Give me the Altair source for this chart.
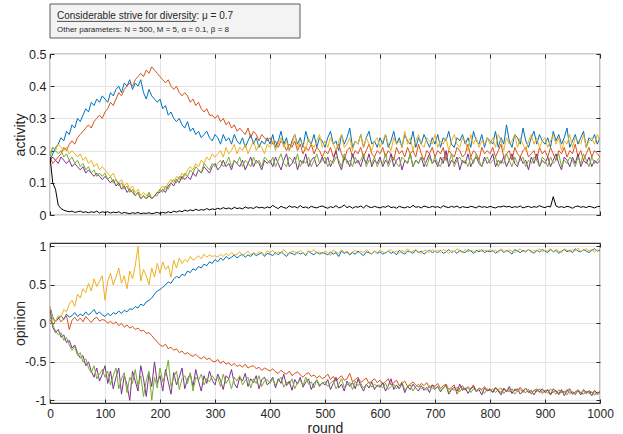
import altair as alt
import pandas as pd

rounds = list(range(0, 1001, 5))

# ---------------- activity panel ----------------
act_blue = [
0.17,0.19,0.21,0.22,0.24,0.23,0.26,0.25,0.28,0.27,0.30,0.29,0.31,0.33,0.32,0.35,0.34,0.36,0.35,0.37,
0.36,0.35,0.38,0.37,0.39,0.40,0.38,0.41,0.40,0.42,0.39,0.41,0.40,0.42,0.38,0.36,0.39,0.37,0.36,0.35,
0.36,0.33,0.34,0.31,0.32,0.30,0.29,0.30,0.28,0.27,0.29,0.26,0.27,0.25,0.26,0.24,0.25,0.26,0.24,0.23,
0.25,0.24,0.22,0.25,0.23,0.24,0.22,0.25,0.23,0.22,0.24,0.21,0.23,0.25,0.22,0.24,0.21,0.23,0.22,0.24,
0.22,0.25,0.21,0.23,0.26,0.22,0.24,0.20,0.23,0.25,0.22,0.24,0.21,0.26,0.23,0.22,0.25,0.21,0.24,0.23,
0.21,0.24,0.26,0.22,0.23,0.20,0.25,0.22,0.24,0.27,0.21,0.23,0.22,0.25,0.21,0.24,0.26,0.22,0.23,0.21,
0.24,0.22,0.25,0.21,0.23,0.26,0.22,0.24,0.21,0.25,0.23,0.22,0.26,0.21,0.24,0.22,0.25,0.23,0.21,0.24,
0.22,0.25,0.21,0.24,0.23,0.26,0.22,0.21,0.24,0.23,0.25,0.22,0.24,0.21,0.26,0.23,0.22,0.25,0.21,0.24,
0.23,0.22,0.26,0.21,0.24,0.22,0.28,0.23,0.21,0.25,0.24,0.22,0.27,0.23,0.21,0.24,0.26,0.22,0.25,0.23,
0.22,0.24,0.21,0.26,0.23,0.25,0.22,0.24,0.27,0.21,0.23,0.25,0.22,0.24,0.26,0.21,0.24,0.23,0.25,0.22,
0.24]
act_orange = [
0.18,0.16,0.17,0.18,0.19,0.21,0.20,0.22,0.23,0.22,0.24,0.25,0.26,0.27,0.28,0.27,0.29,0.30,0.31,0.30,
0.32,0.33,0.35,0.34,0.36,0.38,0.37,0.39,0.40,0.41,0.40,0.42,0.43,0.44,0.43,0.45,0.44,0.46,0.45,0.44,
0.43,0.42,0.41,0.42,0.40,0.39,0.40,0.38,0.37,0.38,0.37,0.35,0.36,0.34,0.35,0.33,0.32,0.33,0.31,0.31,
0.30,0.31,0.29,0.30,0.28,0.29,0.27,0.28,0.26,0.27,0.26,0.25,0.27,0.24,0.26,0.25,0.23,0.25,0.24,0.23,
0.24,0.22,0.23,0.21,0.23,0.22,0.20,0.22,0.21,0.23,0.20,0.22,0.19,0.21,0.20,0.22,0.19,0.21,0.20,0.18,
0.20,0.19,0.21,0.18,0.20,0.22,0.19,0.17,0.20,0.21,0.18,0.20,0.19,0.21,0.18,0.20,0.22,0.19,0.18,0.20,
0.19,0.21,0.18,0.20,0.19,0.17,0.21,0.19,0.20,0.18,0.21,0.19,0.20,0.18,0.22,0.19,0.17,0.20,0.19,0.21,
0.18,0.20,0.19,0.21,0.17,0.20,0.19,0.18,0.21,0.20,0.18,0.19,0.22,0.18,0.20,0.19,0.17,0.21,0.19,0.20,
0.19,0.21,0.18,0.20,0.22,0.18,0.19,0.20,0.17,0.21,0.19,0.18,0.20,0.21,0.18,0.19,0.20,0.17,0.21,0.19,
0.20,0.18,0.21,0.19,0.17,0.20,0.19,0.21,0.18,0.20,0.19,0.22,0.18,0.20,0.17,0.19,0.21,0.18,0.20,0.19,
0.18]
act_yellow = [
0.19,0.21,0.20,0.22,0.21,0.20,0.21,0.19,0.20,0.19,0.18,0.19,0.17,0.18,0.16,0.17,0.15,0.16,0.14,0.15,
0.14,0.13,0.12,0.13,0.11,0.10,0.11,0.09,0.10,0.08,0.09,0.07,0.08,0.06,0.07,0.06,0.07,0.05,0.06,0.07,
0.08,0.09,0.08,0.10,0.11,0.10,0.12,0.11,0.13,0.12,0.14,0.15,0.14,0.16,0.15,0.17,0.16,0.18,0.17,0.19,
0.18,0.19,0.20,0.18,0.21,0.19,0.20,0.22,0.19,0.21,0.20,0.22,0.19,0.21,0.23,0.20,0.22,0.21,0.19,0.22,
0.21,0.23,0.20,0.22,0.24,0.21,0.23,0.20,0.22,0.25,0.21,0.23,0.22,0.20,0.24,0.22,0.21,0.23,0.25,0.21,
0.23,0.21,0.24,0.22,0.20,0.23,0.25,0.21,0.22,0.24,0.20,0.23,0.22,0.25,0.21,0.24,0.22,0.20,0.23,0.24,
0.21,0.23,0.25,0.22,0.20,0.24,0.22,0.23,0.21,0.26,0.22,0.24,0.20,0.23,0.25,0.22,0.21,0.24,0.23,0.22,
0.25,0.21,0.23,0.22,0.24,0.20,0.23,0.25,0.22,0.21,0.24,0.23,0.20,0.25,0.22,0.24,0.21,0.23,0.22,0.24,
0.22,0.24,0.21,0.25,0.23,0.20,0.24,0.22,0.23,0.25,0.21,0.24,0.22,0.20,0.23,0.25,0.22,0.24,0.21,0.23,
0.24,0.21,0.23,0.25,0.22,0.24,0.20,0.23,0.22,0.25,0.21,0.24,0.23,0.22,0.25,0.21,0.23,0.24,0.22,0.25,
0.23]
act_purple = [
0.17,0.18,0.17,0.16,0.18,0.17,0.16,0.17,0.15,0.16,0.15,0.14,0.15,0.13,0.14,0.13,0.12,0.13,0.12,0.11,
0.12,0.11,0.10,0.11,0.09,0.10,0.08,0.09,0.07,0.08,0.07,0.06,0.07,0.05,0.06,0.05,0.06,0.05,0.06,0.07,
0.07,0.08,0.07,0.09,0.10,0.09,0.11,0.10,0.12,0.11,0.12,0.11,0.13,0.12,0.14,0.13,0.15,0.14,0.13,0.15,
0.16,0.14,0.15,0.17,0.15,0.16,0.14,0.17,0.16,0.15,0.17,0.14,0.16,0.18,0.15,0.17,0.16,0.14,0.17,0.16,
0.17,0.15,0.18,0.16,0.14,0.17,0.19,0.15,0.16,0.18,0.14,0.17,0.16,0.19,0.15,0.17,0.18,0.15,0.16,0.18,
0.16,0.18,0.15,0.17,0.20,0.16,0.14,0.18,0.17,0.15,0.19,0.16,0.17,0.15,0.18,0.16,0.19,0.15,0.17,0.16,
0.18,0.15,0.17,0.16,0.19,0.15,0.17,0.18,0.14,0.17,0.16,0.19,0.15,0.17,0.16,0.18,0.15,0.17,0.19,0.16,
0.17,0.15,0.18,0.16,0.20,0.15,0.17,0.16,0.18,0.14,0.17,0.16,0.19,0.15,0.17,0.18,0.16,0.15,0.18,0.16,
0.17,0.19,0.15,0.17,0.16,0.18,0.15,0.17,0.19,0.16,0.15,0.18,0.16,0.17,0.14,0.18,0.16,0.19,0.15,0.17,
0.16,0.18,0.15,0.17,0.19,0.16,0.14,0.18,0.17,0.15,0.18,0.16,0.19,0.15,0.17,0.16,0.18,0.15,0.17,0.16,
0.17]
act_green = [
0.18,0.21,0.20,0.19,0.20,0.18,0.19,0.17,0.18,0.16,0.17,0.15,0.16,0.14,0.15,0.13,0.14,0.12,0.13,0.12,
0.13,0.11,0.12,0.10,0.11,0.09,0.10,0.08,0.09,0.07,0.08,0.06,0.07,0.05,0.06,0.05,0.07,0.05,0.06,0.06,
0.08,0.07,0.09,0.08,0.10,0.11,0.10,0.12,0.11,0.13,0.12,0.14,0.13,0.15,0.14,0.13,0.16,0.15,0.14,0.16,
0.15,0.16,0.17,0.15,0.16,0.18,0.15,0.17,0.16,0.18,0.15,0.17,0.16,0.15,0.18,0.16,0.17,0.15,0.18,0.17,
0.16,0.18,0.15,0.17,0.19,0.16,0.15,0.18,0.17,0.16,0.19,0.15,0.17,0.16,0.18,0.15,0.17,0.19,0.16,0.17,
0.18,0.15,0.17,0.16,0.18,0.17,0.15,0.19,0.16,0.17,0.15,0.18,0.16,0.17,0.19,0.15,0.17,0.16,0.18,0.15,
0.17,0.16,0.19,0.15,0.17,0.18,0.16,0.15,0.18,0.17,0.16,0.19,0.15,0.17,0.16,0.18,0.17,0.15,0.18,0.16,
0.18,0.16,0.15,0.18,0.17,0.16,0.19,0.15,0.17,0.18,0.16,0.17,0.15,0.18,0.16,0.19,0.17,0.15,0.17,0.18,
0.16,0.17,0.18,0.15,0.17,0.16,0.19,0.17,0.15,0.18,0.16,0.17,0.18,0.15,0.17,0.16,0.18,0.17,0.15,0.18,
0.17,0.15,0.18,0.16,0.17,0.19,0.15,0.17,0.16,0.18,0.17,0.15,0.18,0.16,0.19,0.17,0.15,0.18,0.16,0.17,
0.18]
act_black = [
0.18,0.10,0.08,0.03,0.02,0.015,0.012,0.01,0.012,0.008,0.01,0.012,0.008,0.01,0.007,0.01,0.008,0.012,0.006,0.01,
0.008,0.01,0.006,0.009,0.007,0.01,0.005,0.008,0.006,0.004,0.007,0.005,0.008,0.004,0.006,0.005,0.007,0.004,0.006,0.008,
0.005,0.008,0.006,0.01,0.007,0.012,0.009,0.013,0.01,0.015,0.012,0.016,0.013,0.018,0.014,0.017,0.015,0.02,0.016,0.019,
0.017,0.021,0.018,0.023,0.019,0.022,0.018,0.024,0.02,0.022,0.019,0.025,0.021,0.023,0.02,0.026,0.022,0.024,0.021,0.025,
0.022,0.03,0.024,0.02,0.027,0.023,0.021,0.028,0.024,0.026,0.022,0.029,0.023,0.025,0.021,0.027,0.024,0.022,0.026,0.028,
0.024,0.021,0.026,0.023,0.029,0.022,0.025,0.031,0.023,0.027,0.021,0.026,0.024,0.028,0.022,0.03,0.025,0.023,0.027,0.024,
0.022,0.026,0.024,0.029,0.023,0.025,0.021,0.027,0.024,0.022,0.026,0.023,0.03,0.024,0.026,0.022,0.028,0.025,0.023,0.027,
0.024,0.026,0.022,0.029,0.025,0.023,0.027,0.024,0.028,0.022,0.026,0.024,0.023,0.027,0.025,0.022,0.028,0.024,0.026,0.023,
0.027,0.024,0.022,0.026,0.025,0.028,0.025,0.027,0.023,0.026,0.024,0.028,0.022,0.025,0.027,0.023,0.026,0.024,0.029,0.025,
0.023,0.027,0.025,0.057,0.028,0.024,0.026,0.023,0.027,0.025,0.021,0.026,0.028,0.024,0.026,0.023,0.027,0.025,0.022,0.026,
0.027]

# ---------------- opinion panel ----------------
op_blue = [
0.22,0.08,0.02,0.06,0.10,0.05,0.12,0.08,0.10,0.14,0.09,0.12,0.10,0.15,0.11,0.14,0.18,0.12,0.15,0.11,
0.09,0.13,0.10,0.14,0.12,0.16,0.13,0.17,0.15,0.19,0.18,0.22,0.20,0.25,0.23,0.28,0.30,0.33,0.38,0.42,
0.44,0.47,0.50,0.54,0.52,0.58,0.61,0.59,0.64,0.62,0.68,0.66,0.71,0.69,0.74,0.72,0.77,0.75,0.80,0.78,
0.83,0.80,0.85,0.82,0.87,0.84,0.86,0.89,0.85,0.88,0.90,0.86,0.89,0.87,0.91,0.88,0.90,0.92,0.87,0.91,
0.90,0.88,0.92,0.89,0.93,0.90,0.87,0.92,0.91,0.89,0.93,0.90,0.92,0.88,0.94,0.91,0.89,0.93,0.90,0.92,
0.91,0.89,0.93,0.90,0.92,0.87,0.94,0.91,0.93,0.89,0.92,0.90,0.94,0.91,0.88,0.93,0.92,0.90,0.94,0.91,
0.93,0.90,0.92,0.94,0.91,0.93,0.89,0.95,0.92,0.90,0.94,0.93,0.91,0.95,0.92,0.94,0.90,0.93,0.95,0.92,
0.94,0.92,0.95,0.91,0.93,0.96,0.92,0.94,0.91,0.95,0.93,0.92,0.96,0.94,0.91,0.95,0.93,0.96,0.92,0.94,
0.93,0.95,0.91,0.94,0.96,0.92,0.95,0.93,0.90,0.96,0.94,0.92,0.95,0.93,0.96,0.94,0.91,0.95,0.93,0.96,
0.94,0.92,0.96,0.93,0.95,0.91,0.94,0.96,0.93,0.95,0.92,0.97,0.94,0.93,0.96,0.94,0.92,0.95,0.97,0.94,
0.95]
op_orange = [
0.05,-0.02,0.03,0.08,0.02,0.06,0.10,-0.08,0.04,0.08,0.03,0.07,0.02,0.09,0.05,0.01,0.06,0.08,0.03,0.05,
0.04,0.00,0.03,-0.01,0.02,-0.03,0.00,-0.05,-0.02,-0.06,-0.04,-0.08,-0.06,-0.10,-0.09,-0.13,-0.12,-0.16,-0.20,-0.24,
-0.28,-0.30,-0.27,-0.33,-0.31,-0.35,-0.33,-0.38,-0.36,-0.40,-0.38,-0.41,-0.43,-0.40,-0.44,-0.46,-0.43,-0.47,-0.45,-0.49,
-0.50,-0.47,-0.52,-0.49,-0.53,-0.51,-0.55,-0.52,-0.56,-0.54,-0.57,-0.53,-0.58,-0.56,-0.55,-0.59,-0.57,-0.61,-0.58,-0.60,
-0.62,-0.59,-0.63,-0.65,-0.61,-0.64,-0.66,-0.62,-0.68,-0.65,-0.63,-0.67,-0.70,-0.66,-0.64,-0.69,-0.67,-0.71,-0.68,-0.72,
-0.70,-0.66,-0.73,-0.69,-0.75,-0.71,-0.68,-0.74,-0.72,-0.65,-0.76,-0.73,-0.70,-0.77,-0.74,-0.71,-0.78,-0.75,-0.72,-0.77,
-0.74,-0.79,-0.76,-0.72,-0.80,-0.77,-0.74,-0.81,-0.78,-0.75,-0.82,-0.79,-0.76,-0.80,-0.83,-0.78,-0.81,-0.77,-0.84,-0.80,
-0.82,-0.78,-0.85,-0.81,-0.79,-0.86,-0.83,-0.80,-0.92,-0.84,-0.81,-0.87,-0.83,-0.85,-0.80,-0.88,-0.84,-0.86,-0.82,-0.87,
-0.85,-0.89,-0.83,-0.87,-0.90,-0.84,-0.88,-0.86,-0.91,-0.85,-0.89,-0.83,-0.88,-0.90,-0.86,-0.92,-0.87,-0.89,-0.85,-0.91,
-0.88,-0.86,-0.92,-0.89,-0.87,-0.93,-0.88,-0.90,-0.86,-0.91,-0.89,-0.93,-0.87,-0.90,-0.92,-0.88,-0.91,-0.89,-0.93,-0.90,
-0.89]
op_yellow = [
0.22,0.05,0.02,0.10,0.08,0.18,0.15,0.25,0.30,0.22,0.38,0.33,0.45,0.40,0.52,0.42,0.58,0.48,0.55,0.62,
0.30,0.55,0.65,0.50,0.60,0.72,0.52,0.62,0.45,0.68,0.58,0.75,1.00,0.55,0.70,0.62,0.50,0.72,0.60,0.78,
0.65,0.80,0.70,0.75,0.60,0.82,0.72,0.85,0.78,0.83,0.80,0.87,0.82,0.85,0.88,0.84,0.90,0.86,0.89,0.87,
0.88,0.86,0.90,0.87,0.91,0.88,0.92,0.89,0.90,0.93,0.88,0.91,0.94,0.89,0.92,0.90,0.93,0.91,0.89,0.94,
0.92,0.95,0.90,0.93,0.91,0.96,0.92,0.90,0.94,0.93,0.91,0.95,0.92,0.89,0.94,0.93,0.96,0.91,0.93,0.90,
0.94,0.92,0.88,0.95,0.93,0.91,0.96,0.92,0.94,0.90,0.93,0.95,0.91,0.94,0.92,0.96,0.93,0.90,0.94,0.92,
0.95,0.93,0.91,0.94,0.96,0.92,0.94,0.91,0.95,0.93,0.97,0.92,0.94,0.96,0.93,0.91,0.95,0.94,0.92,0.96,
0.93,0.95,0.92,0.96,0.94,0.91,0.95,0.93,0.97,0.94,0.92,0.96,0.93,0.95,0.94,0.92,0.96,0.93,0.95,0.94,
0.96,0.93,0.95,0.92,0.97,0.94,0.93,0.96,0.94,0.92,0.95,0.97,0.93,0.94,0.96,0.92,0.95,0.94,0.97,0.93,
0.95,0.94,0.97,0.93,0.96,0.94,0.92,0.97,0.95,0.93,0.96,0.94,0.98,0.93,0.95,0.97,0.94,0.96,0.93,0.95,
0.96]
op_purple = [
0.18,-0.05,-0.12,-0.08,-0.18,-0.15,-0.25,-0.22,-0.32,-0.28,-0.38,-0.45,-0.42,-0.55,-0.50,-0.62,-0.70,-0.58,-0.75,-0.66,
-0.55,-0.78,-0.62,-0.85,-0.70,-0.58,-0.92,-0.68,-0.80,-1.00,-0.62,-0.75,-0.88,-0.55,-0.72,-0.95,-0.65,-0.82,-0.50,-0.78,
-0.68,-0.88,-0.60,-0.76,-0.92,-0.64,-0.80,-0.70,-0.58,-0.85,-0.72,-0.66,-0.82,-0.60,-0.75,-0.88,-0.68,-0.78,-0.62,-0.74,
-0.80,-0.66,-0.74,-0.86,-0.68,-0.72,-0.60,-0.78,-0.84,-0.70,-0.75,-0.65,-0.82,-0.72,-0.77,-0.68,-0.85,-0.73,-0.70,-0.80,
-0.76,-0.70,-0.84,-0.72,-0.78,-0.66,-0.81,-0.75,-0.87,-0.73,-0.79,-0.70,-0.83,-0.76,-0.72,-0.86,-0.78,-0.74,-0.82,-0.77,
-0.80,-0.73,-0.86,-0.78,-0.70,-0.84,-0.79,-0.88,-0.75,-0.82,-0.77,-0.85,-0.72,-0.81,-0.88,-0.79,-0.84,-0.76,-0.86,-0.80,
-0.83,-0.77,-0.88,-0.81,-0.72,-0.86,-0.80,-0.85,-0.78,-0.90,-0.82,-0.86,-0.79,-0.84,-0.88,-0.81,-0.87,-0.83,-0.90,-0.80,
-0.85,-0.82,-0.89,-0.84,-0.80,-0.92,-0.86,-0.83,-0.88,-0.79,-0.87,-0.84,-0.91,-0.85,-0.82,-0.89,-0.86,-0.93,-0.84,-0.88,
-0.86,-0.90,-0.84,-0.88,-0.93,-0.85,-0.89,-0.82,-0.91,-0.87,-0.85,-0.92,-0.88,-0.84,-0.90,-0.87,-0.93,-0.86,-0.89,-0.85,
-0.90,-0.87,-0.93,-0.85,-0.89,-0.91,-0.86,-0.94,-0.88,-0.85,-0.92,-0.89,-0.87,-0.93,-0.86,-0.90,-0.88,-0.94,-0.87,-0.91,
-0.89]
op_green = [
0.10,-0.02,-0.10,-0.15,-0.12,-0.22,-0.18,-0.28,-0.35,-0.30,-0.42,-0.38,-0.50,-0.46,-0.58,-0.64,-0.55,-0.72,-0.66,-0.60,
-0.70,-0.62,-0.80,-0.68,-0.58,-0.85,-0.72,-0.64,-0.90,-0.70,-0.78,-0.60,-0.82,-0.68,-0.95,-0.74,-0.62,-1.00,-0.70,-0.84,
-0.58,-0.76,-0.66,-0.48,-0.82,-0.70,-0.62,-0.86,-0.72,-0.68,-0.78,-0.64,-0.88,-0.70,-0.74,-0.66,-0.80,-0.72,-0.76,-0.68,
-0.74,-0.70,-0.82,-0.66,-0.78,-0.72,-0.85,-0.70,-0.75,-0.68,-0.80,-0.74,-0.70,-0.84,-0.72,-0.78,-0.68,-0.82,-0.75,-0.73,
-0.78,-0.72,-0.80,-0.75,-0.70,-0.83,-0.76,-0.79,-0.72,-0.85,-0.77,-0.74,-0.81,-0.70,-0.79,-0.76,-0.84,-0.73,-0.80,-0.78,
-0.76,-0.82,-0.78,-0.74,-0.85,-0.79,-0.72,-0.83,-0.80,-0.77,-0.86,-0.75,-0.81,-0.78,-0.84,-0.80,-0.76,-0.83,-0.79,-0.82,
-0.80,-0.84,-0.78,-0.86,-0.82,-0.79,-0.85,-0.81,-0.76,-0.87,-0.83,-0.80,-0.88,-0.82,-0.79,-0.85,-0.83,-0.87,-0.81,-0.84,
-0.86,-0.82,-0.88,-0.84,-0.81,-0.90,-0.85,-0.87,-0.83,-0.89,-0.84,-0.86,-0.82,-0.90,-0.85,-0.88,-0.84,-0.87,-0.91,-0.85,
-0.88,-0.85,-0.90,-0.86,-0.84,-0.91,-0.87,-0.89,-0.85,-0.92,-0.88,-0.86,-0.90,-0.84,-0.89,-0.91,-0.87,-0.85,-0.90,-0.88,
-0.87,-0.91,-0.85,-0.89,-0.92,-0.86,-0.90,-0.88,-0.93,-0.87,-0.89,-0.91,-0.86,-0.90,-0.88,-0.92,-0.87,-0.90,-0.89,-0.93,
-0.90]

x_ticks = list(range(0, 1001, 100))
act_ticks = [0, 0.1, 0.2, 0.3, 0.4, 0.5]
op_ticks = [-1, -0.5, 0, 0.5, 1]

title_main = "Considerable strive for diversity: \u03bc = 0.7"
title_sub = "Other parameters: N = 500, M = 5, \u03b1 = 0.1, \u03b2 = 8"

BLUE, ORANGE, YELLOW, PURPLE, GREEN, BLACK = "#0072BD", "#D95319", "#EDB120", "#7E2F8E", "#77AC30", "#000000"

for s in [act_blue, act_orange, act_yellow, act_purple, act_green, act_black,
          op_blue, op_orange, op_yellow, op_purple, op_green]:
    assert len(s) == len(rounds), len(s)

W = 550
H_TOP = 161
H_BOT = 160
FONT = "Liberation Sans"
TXT = "#262626"

x_scale = alt.Scale(domain=[0, 1000], nice=False, zero=False)


def x_axis(show_labels):
    kw = dict(values=x_ticks, grid=True, gridColor="#e4e4e4", gridWidth=1,
              domain=False, ticks=True, tickSize=4, offset=-4, tickColor=TXT,
              labels=show_labels, labelFont=FONT, labelFontSize=12,
              labelColor=TXT, labelPadding=5, labelFlush=False,
              labelExpr="'' + datum.value")
    if show_labels:
        kw.update(title="round", titleFont=FONT, titleFontSize=14,
                  titleFontWeight="normal", titleColor=TXT,
                  titleY=33, titleBaseline="alphabetic")
    else:
        kw.update(title=None)
    return alt.Axis(**kw)


def y_axis(values, title, h):
    return alt.Axis(values=values, grid=True, gridColor="#e4e4e4", gridWidth=1,
                    domain=False, ticks=True, tickSize=4, offset=-4, tickColor=TXT,
                    labelFont=FONT, labelFontSize=12.5, labelColor=TXT,
                    labelPadding=4, labelExpr="'' + datum.value",
                    title=title, titleFont=FONT, titleFontSize=14,
                    titleFontWeight="normal", titleColor=TXT,
                    titleX=-30, titleY=h / 2, titleBaseline="alphabetic",
                    titleAngle=270)


def panel(series, ydomain, yvalues, ytitle, h, show_x_labels, extra=()):
    y_scale = alt.Scale(domain=ydomain, nice=False, zero=False)
    lines = []
    for vals, color in series:
        df = pd.DataFrame({"round": rounds, "value": vals})
        lines.append(
            alt.Chart(df).mark_line(color=color, strokeWidth=1, clip=True).encode(
                x=alt.X("round:Q", scale=x_scale, axis=x_axis(show_x_labels)),
                y=alt.Y("value:Q", scale=y_scale, axis=y_axis(yvalues, ytitle, h)),
            )
        )
    inner = alt.layer(*lines)
    df0 = pd.DataFrame({"round": [0], "value": [yvalues[0]]})
    frame = alt.Chart(df0).mark_point(opacity=0).encode(
        x=alt.X("round:Q", scale=x_scale,
                axis=alt.Axis(orient="top", values=x_ticks, grid=False, labels=False,
                              domain=False, ticks=True, tickSize=4, offset=-4,
                              tickColor=TXT, title=None)),
        y=alt.Y("value:Q", scale=y_scale,
                axis=alt.Axis(orient="right", values=yvalues, grid=False, labels=False,
                              domain=False, ticks=True, tickSize=4, offset=-4,
                              tickColor=TXT, title=None)),
    )
    return alt.layer(inner, frame, *extra).resolve_axis(x="independent", y="independent").properties(
        width=W, height=h)


one = pd.DataFrame({"k": [0]})
box = alt.Chart(one).mark_rect(fill="#f3f3f3", stroke="#5a5a5a", strokeWidth=1).encode(
    x=alt.value(0), x2=alt.value(250), y=alt.value(-50), y2=alt.value(-16))
t1 = alt.Chart(one).mark_text(align="left", baseline="alphabetic", font=FONT,
                              fontSize=10, color=TXT).encode(
    x=alt.value(7), y=alt.value(-34.7), text=alt.value(title_main))
underline = alt.Chart(one).mark_rule(color=TXT, strokeWidth=0.8).encode(
    x=alt.value(7), x2=alt.value(146.5), y=alt.value(-32.6))
t2 = alt.Chart(one).mark_text(align="left", baseline="alphabetic", font=FONT,
                              fontSize=8, color=TXT).encode(
    x=alt.value(7), y=alt.value(-22.3), text=alt.value(title_sub))

top = panel(
    [(act_blue, BLUE), (act_orange, ORANGE), (act_yellow, YELLOW),
     (act_purple, PURPLE), (act_green, GREEN), (act_black, BLACK)],
    [0, 0.5], act_ticks, "activity", H_TOP, False, extra=(box, t1, underline, t2))

bottom = panel(
    [(op_blue, BLUE), (op_orange, ORANGE), (op_yellow, YELLOW),
     (op_purple, PURPLE), (op_green, GREEN)],
    [-1.035, 1.045], op_ticks, "opinion", H_BOT, True)

chart = alt.vconcat(top, bottom, spacing=16).properties(
    padding={"left": 12, "top": 2, "right": 5, "bottom": 0}
).configure_view(stroke="#333333", strokeWidth=1.2)

chart.save("out.html", embed_options={"renderer": "svg", "actions": False})
